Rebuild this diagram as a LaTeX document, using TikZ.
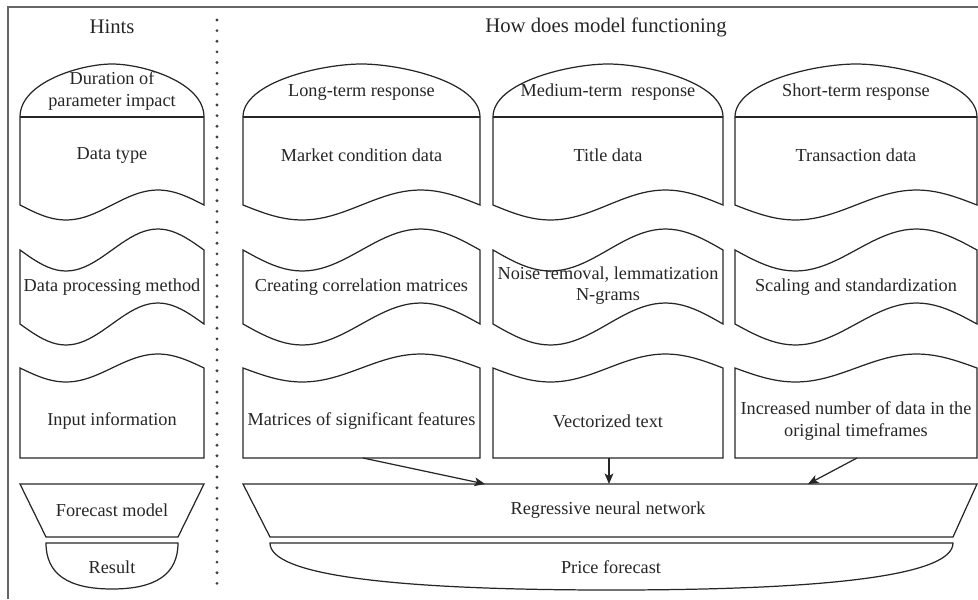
\documentclass[tikz,border=0pt]{standalone}
\usepackage{fontspec}
\setmainfont{Liberation Serif}
\usepackage{tikz}
\usetikzlibrary{arrows.meta}

\tikzset{
  shp/.style={line width=0.7pt, draw=black!85},
  txt/.style={font=\fontsize{10.4}{12}\selectfont, align=center, inner sep=0pt, text=black!85},
  hdr/.style={font=\fontsize{11.8}{14}\selectfont, inner sep=0pt, text=black!85},
  feed/.style={shp, -{Stealth[length=6pt,width=5pt,inset=1.5pt]}}
}

\begin{document}
\begin{tikzpicture}[x=0.02cm,y=-0.02cm]
\useasboundingbox (0,0) rectangle (978,599);
\draw[black!60,line width=0.7pt] (8,599) -- (8,7) -- (978,7);
\draw[black!75,line width=1.8pt,line cap=round,dash pattern=on 0pt off 6.05pt] (217,20) -- (217,588);
\node[hdr] (hints) at (112,27) {Hints};
\node[hdr] (howto) at (606,27) {How does model functioning};
\foreach \xa/\xb in {20/204,243/480,493/723,735/977}{
  \draw[shp] plot[domain=0:1,samples=41] ({\xa+\x*(\xb-\xa)},{205+15*sin(360*\x)})
    -- (\xb,117) .. controls (\xb,82) and ({\xb-(\xb-\xa)/3},64) .. ({(\xa+\xb)/2},64)
    .. controls ({\xa+(\xb-\xa)/3},64) and (\xa,82) .. (\xa,117) -- cycle;
  \draw[shp] (\xa,117) -- (\xb,117);
  \draw[shp] plot[domain=0:1,samples=41] ({\xa+\x*(\xb-\xa)},{250+21*sin(360*\x)})
    -- plot[domain=1:0,samples=41] ({\xa+\x*(\xb-\xa)},{324+21*sin(360*\x)}) -- cycle;
  \draw[shp] plot[domain=0:1,samples=41] ({\xa+\x*(\xb-\xa)},{368+14*sin(360*\x)})
    -- (\xb,458) -- (\xa,458) -- cycle;
}
\node[txt] (impact) at (112,91) {Duration of\\parameter impact};
\node[txt] (longterm) at (361.5,92) {Long-term response};
\node[txt] (medterm) at (608,92) {Medium-term \ response};
\node[txt] (shortterm) at (856,92) {Short-term response};
\node[txt] (dtype) at (112,155) {Data type};
\node[txt] (market) at (361.5,155) {Market condition data};
\node[txt] (title) at (608,155) {Title data};
\node[txt] (trans) at (856,155) {Transaction data};
\node[txt] (method) at (112,287) {Data processing method};
\node[txt] (correl) at (361.5,287) {Creating correlation matrices};
\node[txt] (noise) at (608,286) {Noise removal, lemmatization\\N-grams};
\node[txt] (scaling) at (856,287) {Scaling and standardization};
\node[txt] (input) at (112,421) {Input information};
\node[txt] (matrices) at (361.5,421) {Matrices of significant features};
\node[txt] (vectext) at (608,421) {Vectorized text};
\node[txt] (increased) at (856,421) {Increased number of data in the\\original timeframes};
\draw[shp] (20,484) -- (204,484) -- (178,537) -- (46,537) -- cycle;
\draw[shp] (243,484) -- (977,484) -- (953,537) -- (270,537) -- cycle;
\node[txt] (fmodel) at (112,510) {Forecast model};
\node[txt] (regnet) at (608,510) {Regressive neural network};
\draw[shp] (46,543) -- (178,543) .. controls (178,574) and (156,589) .. (112,589)
  .. controls (68,589) and (46,574) .. (46,543) -- cycle;
\draw[shp] (270,543) -- (953,543) .. controls (953,574) and (839,590) .. (611.5,590)
  .. controls (384,590) and (270,574) .. (270,543) -- cycle;
\node[txt] (result) at (112,567) {Result};
\node[txt] (price) at (611,567) {Price forecast};
\coordinate (f1) at (363,458);
\coordinate (f2) at (609,458);
\coordinate (f3) at (857,458);
\coordinate (n1) at (485,484);
\coordinate (n2) at (609,484);
\coordinate (n3) at (808,484);
\draw[feed] (f1) -- (n1);
\draw[feed] (f2) -- (n2);
\draw[feed] (f3) -- (n3);
\end{tikzpicture}
\end{document}
